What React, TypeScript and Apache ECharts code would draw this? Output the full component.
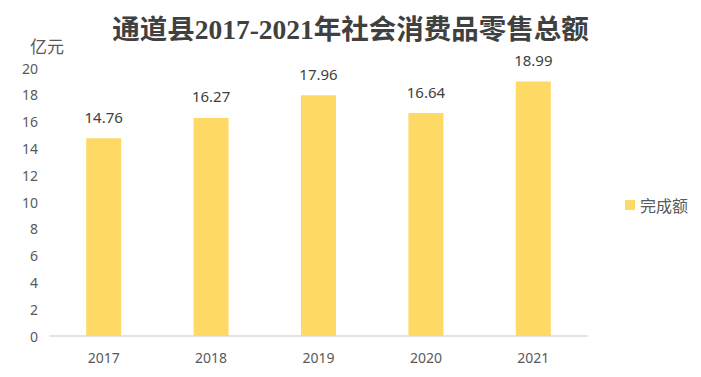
import React, { useEffect, useRef } from "react";
import * as echarts from "echarts";

const categories = ["2017", "2018", "2019", "2020", "2021"];
const values = [14.76, 16.27, 17.96, 16.64, 18.99];
const seriesName = "完成额";
const titleText = "通道县2017-2021年社会消费品零售总额";
const unitText = "亿元";

export default function App() {
  const ref = useRef<HTMLDivElement>(null);
  useEffect(() => {
    if (!ref.current) return;
    const chart = echarts.init(ref.current, null, { renderer: "svg" });
    chart.setOption({
      animation: false,
      backgroundColor: "#ffffff",
      title: {
        text: titleText,
        left: "center",
        top: 11,
        textStyle: {
          fontFamily: "'Liberation Serif', 'Noto Sans CJK SC', serif",
          fontWeight: "bold",
          fontSize: 27.5,
          color: "#404040",
        },
      },
      legend: {
        orient: "vertical",
        left: 620,
        top: 192,
        itemWidth: 10,
        itemHeight: 10,
        itemGap: 6,
        icon: "rect",
        textStyle: {
          fontFamily: "'Noto Sans CJK SC', sans-serif",
          fontSize: 16,
          color: "#595959",
        },
        data: [seriesName],
      },
      grid: { left: 50, right: 114, top: 68, bottom: 41, containLabel: false },
      xAxis: {
        type: "category",
        data: categories,
        axisLine: { lineStyle: { color: "#d9d9d9", width: 1.5 } },
        axisTick: { show: false },
        axisLabel: {
          margin: 14,
          fontFamily: "'Noto Sans', sans-serif",
          fontSize: 14,
          color: "#595959",
        },
      },
      yAxis: {
        type: "value",
        min: 0,
        max: 20,
        interval: 2,
        name: unitText,
        nameLocation: "end",
        nameGap: 14,
        nameTextStyle: {
          fontFamily: "'Noto Sans CJK SC', sans-serif",
          fontSize: 17,
          color: "#595959",
          align: "center",
          padding: [0, 6, 0, 0],
        },
        axisLine: { show: false },
        axisTick: { show: false },
        splitLine: { show: false },
        axisLabel: {
          margin: 12,
          fontFamily: "'Noto Sans', sans-serif",
          fontSize: 14,
          color: "#595959",
        },
      },
      series: [
        {
          name: seriesName,
          type: "bar",
          data: values,
          barWidth: 35,
          itemStyle: { color: "#FFD966" },
          label: {
            show: true,
            position: "top",
            distance: 14,
            formatter: (p: any) => p.value.toFixed(2),
            fontFamily: "'Noto Sans', sans-serif",
            fontSize: 15,
            color: "#404040",
          },
        },
      ],
    });
    return () => chart.dispose();
  }, []);
  return <div ref={ref} style={{ width: 701, height: 377, position: "absolute", left: 0, top: 0 }} />;
}
